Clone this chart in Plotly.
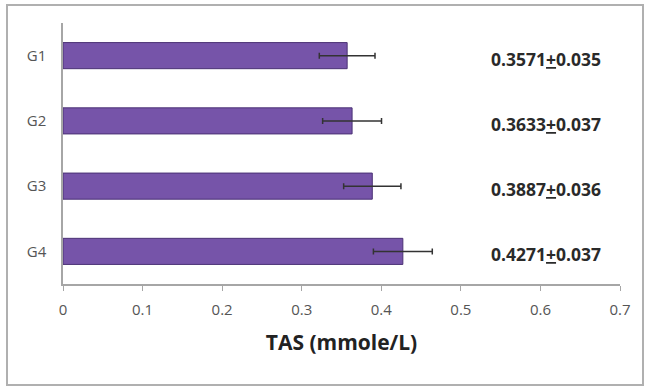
import plotly.graph_objects as go

groups = ["G1", "G2", "G3", "G4"]
means = [0.3571, 0.3633, 0.3887, 0.4271]
sds = [0.035, 0.037, 0.036, 0.037]
x_ticks = [0, 0.1, 0.2, 0.3, 0.4, 0.5, 0.6, 0.7]
x_tick_labels = ["0", "0.1", "0.2", "0.3", "0.4", "0.5", "0.6", "0.7"]

font_family = "'Open Sans', Lato, sans-serif"

fig = go.Figure()
fig.add_trace(go.Bar(
    y=groups,
    x=means,
    orientation="h",
    marker=dict(color="#7654a9", line=dict(color="#4b3275", width=1)),
    error_x=dict(type="data", array=sds, visible=True, color="#333333",
                 thickness=1.5, width=3),
    width=0.4,
    hoverinfo="skip",
))

for g, m, s in zip(groups, means, sds):
    fig.add_annotation(
        x=0.607, y=g, xref="x", yref="y",
        text=f"<b>{m:.4f}<u>+</u>{s:.3f}</b>",
        showarrow=False, yshift=-3,
        font=dict(family=font_family, size=17.5, color="#2a2a2a"),
    )

fig.update_layout(
    width=646, height=388,
    margin=dict(l=63, r=26, t=23, b=104),
    paper_bgcolor="white",
    plot_bgcolor="white",
    showlegend=False,
    font=dict(family=font_family),
    xaxis=dict(
        range=[0, 0.7],
        tickvals=x_ticks, ticktext=x_tick_labels,
        showgrid=False, zeroline=False,
        showline=True, linecolor="#a6a6a6", linewidth=1.5,
        ticks="outside", ticklen=5, tickcolor="#a6a6a6",
        tickfont=dict(size=15, color="#555555"),
        ticklabelstandoff=6,
        title=dict(text="<b>TAS (mmole/L)</b>", standoff=18,
                   font=dict(size=21, color="#222222")),
        fixedrange=True,
    ),
    yaxis=dict(
        autorange="reversed",
        showgrid=False, zeroline=False,
        showline=True, linecolor="#a6a6a6", linewidth=1.5,
        ticks="", tickfont=dict(size=15, color="#555555"),
        ticklabelstandoff=12,
        fixedrange=True,
    ),
)

# outer frame around the chart
fig.add_shape(type="rect", xref="paper", yref="paper",
              x0=-56 / 557, x1=1 + 23 / 557, y0=-101 / 261, y1=1 + 18 / 261,
              line=dict(color="#b0b0b0", width=2), fillcolor="rgba(0,0,0,0)")

fig.write_html("out.html")
